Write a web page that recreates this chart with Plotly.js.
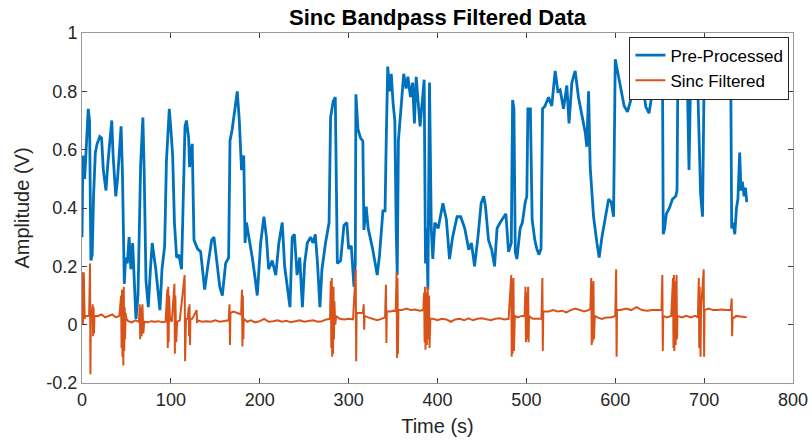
<!DOCTYPE html>
<html>
<head>
<meta charset="utf-8">
<script src="https://cdn.plot.ly/plotly-3.0.1.min.js"></script>
<style>html,body{margin:0;padding:0;background:#fff;}#chart{width:812px;height:448px;}</style>
</head>
<body>
<div id="chart"></div>
<script>
// [time (s), amplitude (V)]
const preProcessed = [
[0,0.30],[1,0.58],[3,0.50],[5,0.60],[7,0.74],[8.5,0.70],[10,0.22],[11.5,0.24],[13,0.44],[15,0.59],
[17,0.62],[20,0.645],[22,0.64],[24,0.53],[27,0.46],[29,0.55],[31,0.62],[33.5,0.70],[35,0.58],[38,0.44],
[40,0.50],[42.7,0.63],[44,0.68],[45.5,0.52],[47.6,0.14],[49,0.23],[51,0.21],[53,0.30],[55,0.19],[57,0.28],
[59,0.15],[60.7,0.02],[63,0.10],[66,0.55],[68.5,0.71],[70,0.52],[72,0.15],[74.6,0.06],[77,0.19],[79,0.28],
[83,0.19],[87.7,0.05],[90,0.19],[93,0.27],[95,0.56],[98.2,0.74],[100,0.67],[102,0.58],[104,0.35],[106.5,0.23],
[109,0.24],[112,0.19],[115.9,0.68],[117.5,0.70],[120,0.64],[121,0.54],[122.6,0.59],[124,0.62],[126,0.29],[130,0.26],
[133.5,0.25],[138,0.12],[142,0.21],[145.9,0.29],[148.5,0.30],[152,0.21],[155,0.13],[157.9,0.10],[161.6,0.21],[165,0.23],
[166.5,0.63],[169,0.67],[172,0.75],[174.7,0.80],[177,0.70],[179.5,0.53],[182,0.58],[183.5,0.28],[185,0.35],[188,0.30],
[191.6,0.23],[195,0.155],[197.2,0.10],[201,0.28],[204.7,0.37],[207.5,0.30],[210,0.19],[214,0.22],[218,0.17],[221.5,0.28],
[225.3,0.35],[228,0.20],[231,0.12],[234,0.06],[236.5,0.30],[239,0.31],[242,0.17],[245,0.23],[248,0.06],[250.5,0.21],
[253.5,0.28],[257.2,0.30],[260,0.28],[262.5,0.31],[265,0.21],[267.7,0.06],[270,0.19],[274,0.28],[278,0.35],[279.7,0.71],
[282.6,0.765],[285,0.78],[287.3,0.21],[291,0.22],[294.7,0.34],[298,0.35],[300,0.26],[303,0.27],[306,0.13],[307.5,0.21],
[308.2,0.79],[310.5,0.67],[313.4,0.64],[316,0.63],[317.2,0.325],[319.8,0.405],[322,0.33],[327,0.26],[332.2,0.17],[334.8,0.24],
[338.6,0.39],[341,0.39],[342.3,0.63],[344,0.885],[346,0.80],[348,0.86],[350,0.76],[352,0.70],[353.5,0.33],[354.7,0.17],
[356,0.63],[359.2,0.74],[362,0.86],[364.7,0.81],[366.7,0.85],[369.6,0.78],[372,0.83],[374,0.69],[376,0.85],[380.4,0.68],
[383,0.78],[385,0.84],[386.5,0.21],[388,0.33],[389.2,0.12],[391,0.83],[393,0.33],[394.7,0.225],[397,0.35],[400.7,0.33],
[406.1,0.416],[410,0.36],[413.5,0.225],[417,0.30],[422,0.37],[426.1,0.37],[430.7,0.33],[435.2,0.257],[438.2,0.28],[441.7,0.20],
[445.5,0.30],[449.1,0.416],[452,0.44],[454,0.405],[457.4,0.29],[461,0.257],[464.2,0.20],[467,0.33],[470.5,0.35],[474.3,0.37],
[477,0.38],[479.9,0.25],[483,0.28],[484.5,0.77],[486,0.74],[487.5,0.25],[489.3,0.225],[493,0.33],[495.5,0.35],[498.7,0.42],
[500.5,0.44],[501.7,0.74],[504.5,0.74],[506.5,0.36],[509.5,0.29],[511.8,0.26],[514,0.24],[516.5,0.26],[518.2,0.74],[521,0.75],
[524.9,0.78],[528.6,0.75],[532.4,0.87],[535.4,0.80],[538,0.805],[541.8,0.74],[545.5,0.82],[548,0.69],[551.2,0.83],[554.9,0.87],
[558.6,0.78],[562.4,0.72],[566.2,0.66],[568,0.61],[570,0.80],[571.8,0.54],[573,0.485],[575.6,0.37],[579.4,0.28],[581.9,0.23],
[585,0.30],[588,0.35],[590.6,0.39],[592.5,0.43],[595.5,0.42],[598.1,0.37],[600,0.91],[602,0.88],[606.3,0.805],[610,0.75],
[613.8,0.73],[617.5,0.77],[621,0.90],[622.8,0.98],[624.5,0.86],[628.5,0.78],[632,0.80],[634.4,0.747],[638,0.725],[641.5,0.80],
[645,0.86],[648,0.90],[651,0.88],[653.2,0.84],[654,0.31],[655.5,0.33],[657.5,0.38],[661,0.40],[664.3,0.43],[668,0.44],
[669.5,0.46],[670.5,0.88],[675,0.86],[678,0.90],[681,0.85],[683,0.53],[685,0.88],[689.5,0.82],[691,0.86],[693,0.80],
[696,0.45],[698.2,0.37],[700,0.85],[705,0.82],[710,0.85],[715,0.79],[720,0.84],[725,0.85],[730,0.83],[731,0.33],
[732.6,0.35],[734.5,0.31],[736.4,0.40],[738,0.43],[740,0.59],[741.5,0.46],[743,0.49],[745,0.44],[746.5,0.47],[748,0.42]
];
const sincFiltered = [
[0,0.18],[1,0.0],[2,0.18],[3,0.02],[4,0.03],[6,0.03],[8,0.03],[9,0.21],[9.5,-0.17],[10,0.05],
[11,0.03],[12,0.07],[12.5,-0.04],[13,0.06],[13.5,-0.03],[14,0.03],[18,0.03],[22,0.035],[26,0.025],[30,0.03],
[34,0.035],[38,0.025],[42,0.03],[44,0.10],[44.5,-0.08],[45,0.12],[45.5,-0.11],[46,0.08],[46.5,-0.14],[47,0.13],
[47.5,-0.09],[48,0.06],[48.5,-0.05],[49,0.04],[50,0.02],[52,0.012],[56,0.008],[60,0.015],[64,0.01],[65,0.07],
[65.5,-0.05],[66,0.06],[67,-0.04],[68,0.07],[69,-0.03],[70,0.01],[74,0.008],[78,0.012],[82,0.01],[86,0.012],
[90,0.008],[94,0.01],[96,0.12],[96.5,-0.08],[97,0.13],[97.5,-0.06],[98,0.10],[99,0.02],[101,0.01],[104,0.14],
[104.5,-0.10],[105,0.10],[106,-0.06],[107,0.01],[110,0.015],[115.5,0.17],[116,-0.125],[117,0.02],[119,0.02],[120,0.06],
[120.5,-0.04],[121,0.07],[121.5,-0.07],[122,0.02],[124,0.02],[129,0.05],[129.5,0.005],[130,0.015],[135,0.01],[140,0.012],
[145,0.01],[150,0.015],[155,0.01],[160,0.012],[165,0.015],[166,0.07],[166.5,-0.07],[167,0.04],[170,0.045],[175,0.04],
[179,0.035],[180,0.12],[180.5,-0.075],[181,0.10],[181.5,-0.05],[182,0.02],[186,0.01],[190,0.015],[195,0.008],[200,0.012],
[205,0.02],[210,0.01],[215,0.012],[220,0.015],[225,0.01],[230,0.013],[235,0.008],[240,0.012],[245,0.015],[250,0.01],
[255,0.012],[260,0.015],[265,0.01],[270,0.012],[275,0.018],[279,0.02],[280,0.15],[280.5,-0.08],[281,0.16],[281.5,-0.11],
[282,0.12],[282.5,-0.10],[283,0.13],[283.5,-0.05],[284,0.08],[285,0.0],[286,0.03],[290,0.02],[295,0.018],[300,0.02],
[305,0.018],[308,0.19],[308.5,-0.125],[309,0.04],[312,0.04],[316,0.04],[317,0.07],[317.5,-0.017],[318,0.03],[322,0.025],
[327,0.02],[332,0.015],[337,0.02],[341,0.025],[342,0.137],[342.5,-0.063],[343,0.045],[347,0.045],[351,0.048],[353,0.045],
[354,0.18],[354.5,-0.114],[355,0.16],[355.5,-0.10],[356,0.05],[360,0.05],[365,0.055],[370,0.05],[375,0.052],[380,0.048],
[384,0.05],[385,0.11],[385.5,-0.06],[386,0.13],[386.5,-0.086],[387.5,0.11],[388,-0.07],[389,0.13],[389.5,-0.05],[390.5,0.10],
[391,-0.08],[392,0.02],[395,0.02],[400,0.015],[405,0.02],[410,0.018],[415,0.01],[420,0.018],[425,0.02],[430,0.015],
[435,0.022],[440,0.015],[445,0.02],[450,0.022],[455,0.018],[460,0.015],[465,0.02],[470,0.022],[475,0.018],[480,0.02],
[483,0.17],[483.5,-0.11],[484,0.15],[484.5,-0.10],[485.5,0.16],[486,-0.09],[487,0.03],[490,0.025],[495,0.03],[498,0.03],
[499,0.13],[499.5,-0.06],[500.5,0.11],[501,-0.05],[502,0.13],[502.5,-0.06],[503,0.03],[507,0.02],[512,0.02],[517,0.02],
[518,0.16],[518.5,-0.09],[519,0.045],[525,0.045],[530,0.05],[535,0.045],[540,0.048],[545,0.042],[550,0.05],[555,0.055],
[560,0.05],[565,0.045],[570,0.05],[572,0.055],[573,0.16],[573.5,-0.07],[574,0.14],[574.5,-0.06],[575.5,0.15],[576,-0.05],
[577,0.03],[580,0.025],[585,0.02],[590,0.025],[595,0.025],[600,0.03],[601,0.19],[601.5,-0.11],[602,0.05],[606,0.05],
[612,0.055],[618,0.05],[624,0.06],[630,0.05],[636,0.048],[642,0.05],[648,0.05],[652,0.05],[653,0.17],[653.5,-0.09],
[654,0.03],[658,0.025],[663,0.03],[665,0.16],[665.5,-0.08],[666,0.17],[666.5,-0.09],[667.5,0.15],[668,-0.07],[669,0.17],
[669.5,-0.05],[670,0.03],[675,0.025],[680,0.03],[685,0.025],[690,0.03],[693,0.025],[694,0.16],[694.5,-0.08],[695,0.13],
[696,-0.11],[696.5,0.05],[699.5,0.19],[700,-0.11],[700.5,0.05],[705,0.055],[710,0.05],[715,0.05],[720,0.052],[725,0.05],
[730,0.05],[731,0.09],[731.5,-0.04],[732,0.02],[736,0.03],[740,0.028],[745,0.025],[748,0.025]
];
const seriesNames = ['Pre-Processed', 'Sinc Filtered'];
const xTicks = [0, 100, 200, 300, 400, 500, 600, 700, 800];
const yTicks = [-0.2, 0, 0.2, 0.4, 0.6, 0.8, 1];
const yTickText = ['-0.2', '0', '0.2', '0.4', '0.6', '0.8', '1'];

const FONT = '"Liberation Sans", Arial, Helvetica, sans-serif';
const traces = [
  {x: preProcessed.map(p => p[0]), y: preProcessed.map(p => p[1]), type: 'scatter', mode: 'lines',
   name: seriesNames[0], line: {color: '#0072BD', width: 2.8}},
  {x: sincFiltered.map(p => p[0]), y: sincFiltered.map(p => p[1]), type: 'scatter', mode: 'lines',
   name: seriesNames[1], line: {color: '#D95319', width: 2}}
];
const axisCommon = {
  showgrid: false, zeroline: false, showline: true, mirror: 'ticks',
  linecolor: '#9a9a9a', linewidth: 1, ticks: 'inside', ticklen: 5, tickcolor: '#404040', tickwidth: 1,
  tickfont: {family: FONT, size: 18, color: '#262626'}
};
const layout = {
  width: 812, height: 448,
  margin: {l: 82, r: 19, t: 33, b: 65},
  paper_bgcolor: '#fff', plot_bgcolor: '#fff',
  title: {text: 'Sinc Bandpass Filtered Data', font: {family: FONT, size: 22, color: '#000', weight: 'bold'},
          x: 0.5, xref: 'paper', y: 0.962, yanchor: 'middle'},
  xaxis: Object.assign({}, axisCommon, {range: [0, 800], tickvals: xTicks, ticktext: xTicks.map(String),
          title: {text: 'Time (s)', font: {family: FONT, size: 20, color: '#262626'}, standoff: 10}}),
  yaxis: Object.assign({}, axisCommon, {range: [-0.2, 1], tickvals: yTicks, ticktext: yTickText,
          title: {text: 'Amplitude (V)', font: {family: FONT, size: 20, color: '#262626'}, standoff: 11}}),
  showlegend: true,
  legend: {x: 0.995, xanchor: 'right', y: 0.99, yanchor: 'top', bgcolor: '#fff', bordercolor: '#262626',
           borderwidth: 1, font: {family: FONT, size: 17, color: '#000'}, tracegroupgap: 0, itemwidth: 30}
};
Plotly.newPlot('chart', traces, layout, {staticPlot: true, displayModeBar: false});
</script>
</body>
</html>
